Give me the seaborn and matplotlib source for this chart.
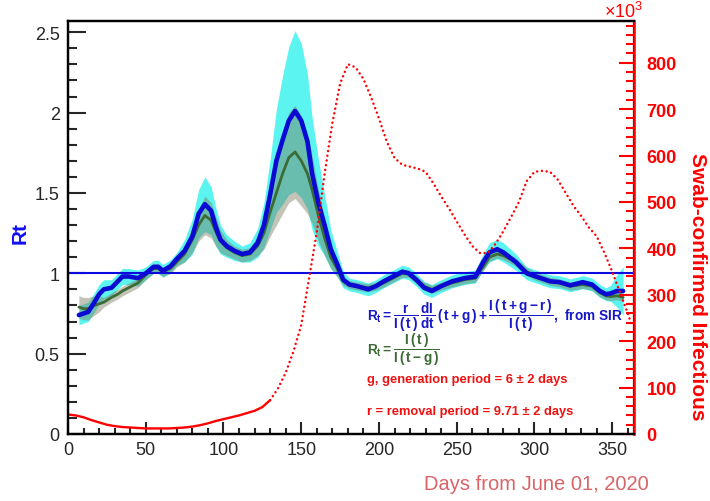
import numpy as np
import matplotlib
matplotlib.use('Agg')
import matplotlib.pyplot as plt
import seaborn as sns
from matplotlib.ticker import MultipleLocator, FuncFormatter

# days since June 01, 2020 for the Rt estimates
days = [7, 10, 13, 17, 20, 23, 28, 32, 35, 39, 45, 50, 55, 58, 61, 66, 70, 75, 80, 84,
        88, 92, 95, 98, 102, 107, 112, 117, 122, 126, 130, 134, 138, 142, 146, 150, 154,
        157, 161, 165, 169, 173, 177, 181, 186, 193, 198, 203, 209, 215, 219, 224, 229,
        234, 240, 247, 255, 262, 267, 271, 276, 280, 288, 295, 301, 310, 316, 323, 331,
        337, 342, 346, 349, 353, 357]

# Rt from SIR (blue dots)
rt_sir = [0.74, 0.75, 0.76, 0.82, 0.87, 0.90, 0.91, 0.95, 0.98, 0.98, 0.97, 1.00, 1.04,
          1.04, 1.015, 1.045, 1.09, 1.14, 1.23, 1.37, 1.43, 1.39, 1.29, 1.21, 1.17, 1.14,
          1.12, 1.13, 1.19, 1.30, 1.49, 1.70, 1.83, 1.95, 2.01, 1.95, 1.82, 1.62, 1.44,
          1.30, 1.15, 1.06, 0.96, 0.93, 0.92, 0.90, 0.92, 0.95, 0.98, 1.01, 1.00, 0.96,
          0.91, 0.89, 0.92, 0.95, 0.97, 0.98, 1.07, 1.13, 1.15, 1.13, 1.07, 1.00, 0.98,
          0.95, 0.945, 0.925, 0.945, 0.93, 0.89, 0.87, 0.875, 0.89, 0.89]
rt_sir_ci = [0.06, 0.06, 0.06, 0.06, 0.06, 0.06, 0.05, 0.05, 0.05, 0.05, 0.05, 0.04, 0.04,
             0.04, 0.04, 0.04, 0.04, 0.07, 0.11, 0.15, 0.17, 0.15, 0.12, 0.09, 0.07, 0.06,
             0.05, 0.06, 0.09, 0.14, 0.22, 0.32, 0.40, 0.46, 0.50, 0.48, 0.42, 0.35, 0.27,
             0.19, 0.12, 0.08, 0.05, 0.04, 0.04, 0.04, 0.04, 0.04, 0.04, 0.04, 0.04, 0.04,
             0.04, 0.04, 0.04, 0.04, 0.04, 0.04, 0.05, 0.06, 0.06, 0.06, 0.05, 0.04, 0.04,
             0.04, 0.04, 0.04, 0.04, 0.04, 0.04, 0.04, 0.05, 0.10, 0.15]

# Rt = I(t) / I(t-g) (dark green line)
rt_ratio = [0.79, 0.78, 0.78, 0.80, 0.81, 0.82, 0.85, 0.87, 0.89, 0.91, 0.94, 0.99, 1.03,
            1.03, 1.01, 1.03, 1.07, 1.12, 1.21, 1.30, 1.36, 1.33, 1.26, 1.20, 1.16, 1.13,
            1.11, 1.12, 1.17, 1.25, 1.38, 1.50, 1.62, 1.72, 1.755, 1.70, 1.62, 1.52, 1.36,
            1.22, 1.10, 1.03, 0.95, 0.93, 0.92, 0.91, 0.92, 0.94, 0.97, 1.00, 1.00, 0.96,
            0.92, 0.90, 0.92, 0.94, 0.96, 0.97, 1.04, 1.10, 1.12, 1.11, 1.07, 1.01, 0.98,
            0.95, 0.94, 0.92, 0.93, 0.92, 0.88, 0.86, 0.855, 0.86, 0.85]
rt_ratio_ci = [0.07, 0.07, 0.07, 0.06, 0.05, 0.03, 0.03, 0.03, 0.03, 0.03, 0.03, 0.03, 0.03,
               0.03, 0.03, 0.03, 0.03, 0.05, 0.08, 0.10, 0.12, 0.11, 0.09, 0.07, 0.05, 0.04,
               0.04, 0.04, 0.06, 0.10, 0.15, 0.20, 0.25, 0.28, 0.29, 0.28, 0.25, 0.21, 0.16,
               0.11, 0.07, 0.05, 0.025, 0.025, 0.025, 0.025, 0.025, 0.025, 0.025, 0.025,
               0.025, 0.025, 0.025, 0.025, 0.025, 0.025, 0.025, 0.025, 0.025, 0.025, 0.025,
               0.025, 0.025, 0.025, 0.025, 0.025, 0.025, 0.025, 0.025, 0.025, 0.025, 0.025,
               0.025, 0.025, 0.025]

# swab-confirmed infectious (thousands, right axis)
infect_days = [0, 5, 10, 15, 20, 25, 30, 35, 40, 45, 50, 55, 60, 65, 70, 75, 80, 85, 90,
               95, 100, 105, 110, 115, 120, 125, 130, 135, 140, 145, 150, 155, 160, 165,
               170, 175, 180, 185, 190, 195, 200, 205, 210, 215, 220, 225, 230, 235, 240,
               245, 250, 255, 260, 265, 270, 275, 280, 285, 290, 295, 300, 305, 310, 315,
               320, 325, 330, 335, 340, 345, 350, 355, 360, 363]
infectious_k = [42, 40, 36, 30, 25, 20, 17, 15, 14, 13, 12, 12, 12, 12, 13, 14, 16, 19, 23,
                28, 32, 36, 40, 45, 50, 58, 73, 98, 132, 178, 235, 335, 435, 560, 670, 755,
                797, 790, 765, 725, 680, 630, 595, 580, 576, 572, 565, 540, 512, 486, 458,
                430, 405, 390, 390, 410, 437, 468, 500, 545, 565, 567, 565, 548, 520, 492,
                470, 445, 426, 390, 350, 305, 260, 230]

sns.set_style('ticks')
plt.rcParams['font.family'] = ['Liberation Sans', 'DejaVu Sans']
plt.rcParams['mathtext.fontset'] = 'custom'
plt.rcParams['mathtext.rm'] = 'Liberation Sans:bold'
plt.rcParams['mathtext.it'] = 'Liberation Sans:bold'
plt.rcParams['mathtext.bf'] = 'Liberation Sans:bold'

W, H = 710, 502
fig = plt.figure(figsize=(7.1, 5.02), dpi=100)
ax = fig.add_axes([68 / W, 67 / H, 566 / W, 413 / H])
ax2 = ax.twinx()

sir = np.array(rt_sir)
ratio = np.array(rt_ratio)
ax.fill_between(days, sir - np.array(rt_sir_ci), sir + np.array(rt_sir_ci),
                color='#3ff3ee', alpha=0.85, lw=0, zorder=1)
ax.fill_between(days, ratio - np.array(rt_ratio_ci), ratio + np.array(rt_ratio_ci),
                color='#7a7a60', alpha=0.45, lw=0, zorder=2)
sns.lineplot(x=days, y=rt_ratio, ax=ax, color='#3d6b35', lw=2.0, zorder=3)
sns.lineplot(x=days, y=rt_sir, ax=ax, color='#0a0ad2', lw=3.3, zorder=4,
             solid_capstyle='round')
ax.axhline(1, color='#0b0bdd', lw=1.5, zorder=5)

k = infect_days.index(130)
sns.lineplot(x=infect_days[:k + 1], y=infectious_k[:k + 1], ax=ax2, color='#ff0000', lw=1.7)
sns.lineplot(x=infect_days[k:], y=infectious_k[k:], ax=ax2, color='#ff0000', lw=1.8,
             linestyle=(0, (0.01, 1.9)), dash_capstyle='round')

ax.set_xlim(0, 364)
ax.set_ylim(0, 2.57)
ax2.set_ylim(0, 890)
ax.set_xlabel('')
ax.set_ylabel('')
ax2.set_ylabel('')

ax.xaxis.set_major_locator(MultipleLocator(50))
ax.xaxis.set_minor_locator(MultipleLocator(10))
ax.yaxis.set_major_locator(MultipleLocator(0.5))
ax.yaxis.set_minor_locator(MultipleLocator(0.1))
ax.yaxis.set_major_formatter(FuncFormatter(lambda v, p: '%g' % v))
ax2.yaxis.set_major_locator(MultipleLocator(100))
ax2.yaxis.set_minor_locator(MultipleLocator(20))

ax.tick_params(axis='x', which='major', direction='in', length=9, width=1.5,
               labelsize=13, pad=5, top=False)
ax.tick_params(axis='x', which='minor', direction='in', length=4.5, width=1.5, top=False)
ax.tick_params(axis='y', which='major', direction='in', length=13, width=1.5,
               labelsize=13, pad=6, right=False)
ax.tick_params(axis='y', which='minor', direction='in', length=6.5, width=1.5, right=False)
ax2.tick_params(axis='y', which='major', direction='in', length=11, width=1.5,
                labelsize=13, pad=9, colors='#ff0000')
ax2.tick_params(axis='y', which='minor', direction='in', length=5.5, width=1.5,
                colors='#ff0000')
for lab in ax2.get_yticklabels():
    lab.set_fontweight('bold')

for a in (ax, ax2):
    for s in a.spines.values():
        s.set_linewidth(1.6)
        s.set_color('black')
ax2.spines['right'].set_color('#ff0000')
ax2.spines['right'].set_linewidth(1.8)

fig.text(20 / W, 1 - 233 / H, 'Rt', color='#1010f0', fontsize=15, fontweight='bold',
         rotation=90, ha='center', va='center')
fig.text(698 / W, 1 - 287 / H, 'Swab-confirmed Infectious', color='#ff0000', fontsize=15,
         fontweight='bold', rotation=270, ha='center', va='center')
fig.text(536 / W, 1 - 485 / H, 'Days from June 01, 2020', color='#d96468', fontsize=14.5,
         ha='center', va='center')
fig.text(604 / W, 1 - 12 / H, r'$\mathregular{\times10^{3}}$', color='#ff0000',
         fontsize=13, ha='left', va='center')

fig.text(367 / W, 1 - 316 / H,
         r'$\mathbf{R_t = \dfrac{r}{I\,(\,t\,)}\,\dfrac{dI}{dt}\,(\,t + g\,) + '
         r'\dfrac{I\,(\,t + g - r\,)}{I\,(\,t\,)}}$,  from SIR',
         color='#1818c8', fontsize=9.8, fontweight='bold', ha='left', va='center')
fig.text(367 / W, 1 - 350 / H, r'$\mathbf{R_t = \dfrac{I\,(\,t\,)}{I\,(\,t - g\,)}}$',
         color='#3d6b35', fontsize=9.8, ha='left', va='center')
fig.text(367 / W, 1 - 380 / H, 'g, generation period = 6 \u00b1 2 days', color='#f01010',
         fontsize=9.3, fontweight='bold', ha='left', va='center')
fig.text(367 / W, 1 - 412 / H, 'r = removal period = 9.71 \u00b1 2 days', color='#f01010',
         fontsize=9.3, fontweight='bold', ha='left', va='center')

fig.savefig('out.png', dpi=100, facecolor='white')
